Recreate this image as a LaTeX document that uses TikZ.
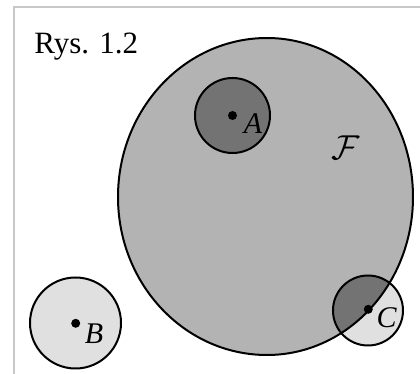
\documentclass[tikz,border=0pt]{standalone}
\usepackage{fontspec}
\setmainfont{Liberation Serif}
\usetikzlibrary{positioning}
\definecolor{rysFrame}{HTML}{C8C8C8}
\definecolor{rysLight}{HTML}{E0E0E0}
\definecolor{rysMid}{HTML}{B3B3B3}
\definecolor{rysDark}{HTML}{737373}
\def\rysBlob{(267,38) .. controls (347.6,38) and (413,109.2) .. (413,197)
  .. controls (413,284.3) and (347.6,355) .. (267,355)
  .. controls (184.7,355) and (118,284.3) .. (118,197)
  .. controls (118,109.2) and (184.7,38) .. (267,38) -- cycle}

\begin{document}
\begin{tikzpicture}[x=0.5pt,y=-0.5pt,
  edge/.style={draw=black,line width=1pt},
  dotpt/.style={circle,fill=black,inner sep=0pt,minimum size=4.5pt},
  lbl/.style={font=\fontsize{15}{18}\selectfont\itshape,inner sep=0pt}]
\useasboundingbox (0,0) rectangle (420,374);

%% frame
\draw[rysFrame,line width=0.6pt] (14,374) -- (14,7) -- (420,7);

%% family F
\path[fill=rysMid] \rysBlob;

%% discs
\draw[edge,fill=rysDark] (232.5,115.5) circle (37.5);
\draw[edge,fill=rysLight] (75.5,323) circle (45.5);
\fill[rysLight] (368,310.5) circle (35);
\begin{scope}
  \clip \rysBlob;
  \fill[rysDark] (368,310.5) circle (35);
\end{scope}
\draw[edge] \rysBlob;
\draw[edge] (368,310.5) circle (35);

%% centres
\node[dotpt] (dotA) at (232.5,115.5) {};
\node[dotpt] (dotB) at (75.7,323.3) {};
\node[dotpt] (dotC) at (368.3,309.3) {};

\node[lbl,right=3pt of dotA,yshift=-4pt] (labA) {A};
\node[lbl,right=2pt of dotB,yshift=-5pt] (labB) {B};
\node[lbl,right=1.5pt of dotC,yshift=-4pt] (labC) {C};
\node[inner sep=0pt,font=\fontsize{16}{19}\selectfont] (labF) at (346,148) {$\mathcal{F}$};

\node[inner sep=0pt,anchor=base west,font=\fontsize{15.5}{18}\selectfont] (title) at (34,54) {Rys. 1.2};
\end{tikzpicture}
\end{document}
